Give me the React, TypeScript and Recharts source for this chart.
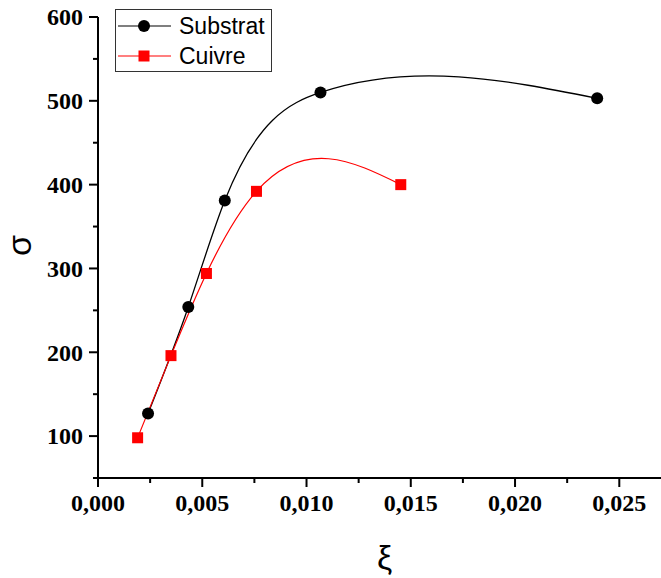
import React from "react";
import { Label, Line, LineChart, XAxis, YAxis } from "recharts";

// strain (ξ) / stress (σ) points for each sample
const substratStrain = [0.0024, 0.00433, 0.00608, 0.01067, 0.02394];
const substratStress = [127, 254, 381, 510, 503];
const cuivreStrain = [0.0019, 0.0035, 0.0052, 0.0076, 0.01452];
const cuivreStress = [98, 196, 294, 392, 400];

const xTicks = [0, 0.0025, 0.005, 0.0075, 0.01, 0.0125, 0.015, 0.0175, 0.02, 0.0225, 0.025];
const yTicks = [50, 100, 150, 200, 250, 300, 350, 400, 450, 500, 550, 600];

const substrat = substratStrain.map((x, i) => ({ x, y: substratStress[i] }));
const cuivre = cuivreStrain.map((x, i) => ({ x, y: cuivreStress[i] }));

const tickFont = { fontFamily: "'Liberation Serif', 'Times New Roman', serif", fontWeight: 700, fontSize: 24, fill: "#000" };
const sansFont = "'Liberation Sans', Arial, sans-serif";

const isMultiple = (v: number, step: number) => Math.abs(v / step - Math.round(v / step)) < 1e-6;

// d3-style curve: natural cubic spline of y as a function of x, drawn as bezier segments
function splineX(context: any) {
  let xs: number[] = [];
  let ys: number[] = [];
  return {
    areaStart() {},
    areaEnd() {},
    lineStart() {
      xs = [];
      ys = [];
    },
    point(x: number, y: number) {
      xs.push(+x);
      ys.push(+y);
    },
    lineEnd() {
      const n = xs.length;
      if (!n) return;
      context.moveTo(xs[0], ys[0]);
      if (n < 3) {
        for (let i = 1; i < n; i++) context.lineTo(xs[i], ys[i]);
        return;
      }
      // solve for second derivatives with natural ends
      const h: number[] = [];
      for (let i = 0; i < n - 1; i++) h.push(xs[i + 1] - xs[i]);
      const a = new Array(n).fill(0);
      const b = new Array(n).fill(1);
      const c = new Array(n).fill(0);
      const r = new Array(n).fill(0);
      for (let i = 1; i < n - 1; i++) {
        a[i] = h[i - 1];
        b[i] = 2 * (h[i - 1] + h[i]);
        c[i] = h[i];
        r[i] = 6 * ((ys[i + 1] - ys[i]) / h[i] - (ys[i] - ys[i - 1]) / h[i - 1]);
      }
      for (let i = 1; i < n; i++) {
        const m = a[i] / b[i - 1];
        b[i] -= m * c[i - 1];
        r[i] -= m * r[i - 1];
      }
      const M = new Array(n).fill(0);
      M[n - 1] = r[n - 1] / b[n - 1];
      for (let i = n - 2; i >= 0; i--) M[i] = (r[i] - c[i] * M[i + 1]) / b[i];
      for (let i = 0; i < n - 1; i++) {
        const s = (ys[i + 1] - ys[i]) / h[i];
        const d0 = s - (h[i] * (2 * M[i] + M[i + 1])) / 6;
        const d1 = s + (h[i] * (M[i] + 2 * M[i + 1])) / 6;
        const t = h[i] / 3;
        context.bezierCurveTo(xs[i] + t, ys[i] + d0 * t, xs[i + 1] - t, ys[i + 1] - d1 * t, xs[i + 1], ys[i + 1]);
      }
    },
  };
}

function XTick({ x, y, payload }: any) {
  const major = isMultiple(payload.value, 0.005);
  return (
    <g>
      <line x1={x} x2={x} y1={y} y2={y + (major ? 9 : 5)} stroke="#000" strokeWidth={2} />
      {major && (
        <text x={x} y={y + 33} textAnchor="middle" {...tickFont}>
          {payload.value.toFixed(3).replace(".", ",")}
        </text>
      )}
    </g>
  );
}

function YTick({ x, y, payload }: any) {
  const major = isMultiple(payload.value, 100);
  return (
    <g>
      <line x1={x} x2={x - (major ? 9 : 5)} y1={y} y2={y} stroke="#000" strokeWidth={2} />
      {major && (
        <text x={x - 15} y={y} dy="0.35em" textAnchor="end" {...tickFont}>
          {payload.value}
        </text>
      )}
    </g>
  );
}

function LegendBox() {
  return (
    <svg width={158} height={64} style={{ position: "absolute", left: 115, top: 9 }}>
      <rect x={0.5} y={0.5} width={156} height={62} fill="#fff" stroke="#333" strokeWidth={1} />
      <line x1={3} x2={56} y1={17} y2={17} stroke="#000" strokeWidth={1.2} />
      <circle cx={29} cy={17} r={6} fill="#000" />
      <text x={64} y={25} fontFamily={sansFont} fontSize={23} fill="#000">Substrat</text>
      <line x1={3} x2={56} y1={47} y2={47} stroke="#ff0000" strokeWidth={1.2} />
      <rect x={23.5} y={41.5} width={11} height={11} fill="#ff0000" />
      <text x={64} y={55} fontFamily={sansFont} fontSize={23} fill="#000">Cuivre</text>
    </svg>
  );
}

export default function App() {
  return (
    <div style={{ position: "absolute", left: 0, top: 0, width: 661, height: 578, background: "#fff" }}>
      <LineChart width={661} height={578} margin={{ top: 17, right: 0, bottom: 0, left: 0 }}>
        <XAxis
          type="number"
          dataKey="x"
          domain={[0, 0.027]}
          ticks={xTicks}
          interval={0}
          allowDataOverflow
          height={100}
          tickSize={0}
          tickMargin={0}
          tickLine={false}
          tick={<XTick />}
          axisLine={{ stroke: "#000", strokeWidth: 2 }}
        >
          <Label
            content={({ viewBox }: any) => (
              <text x={viewBox.x + viewBox.width / 2 + 5} y={viewBox.y + 91} textAnchor="middle" fontFamily={sansFont} fontSize={34} fill="#000">
                ξ
              </text>
            )}
          />
        </XAxis>
        <YAxis
          type="number"
          dataKey="y"
          domain={[50, 600]}
          ticks={yTicks}
          interval={0}
          allowDataOverflow
          width={98}
          tickSize={0}
          tickMargin={0}
          tickLine={false}
          tick={<YTick />}
          axisLine={{ stroke: "#000", strokeWidth: 2 }}
        >
          <Label
            content={({ viewBox }: any) => {
              const cx = 19;
              const cy = viewBox.y + viewBox.height / 2 - 2;
              return (
                <text x={cx} y={cy} dy="0.35em" textAnchor="middle" transform={`rotate(-90 ${cx} ${cy})`} fontFamily={sansFont} fontSize={34} fill="#000">
                  σ
                </text>
              );
            }}
          />
        </YAxis>
        <Line
          data={substrat}
          dataKey="y"
          name="Substrat"
          type={splineX as any}
          stroke="#000"
          strokeWidth={1.3}
          dot={{ r: 6, fill: "#000", stroke: "none" }}
          activeDot={false}
          isAnimationActive={false}
        />
        <Line
          data={cuivre}
          dataKey="y"
          name="Cuivre"
          type={splineX as any}
          stroke="#ff0000"
          strokeWidth={1.2}
          dot={({ cx, cy, index }: any) => <rect key={index} x={cx - 5.5} y={cy - 5.5} width={11} height={11} fill="#ff0000" />}
          activeDot={false}
          isAnimationActive={false}
        />
      </LineChart>
      <LegendBox />
    </div>
  );
}
